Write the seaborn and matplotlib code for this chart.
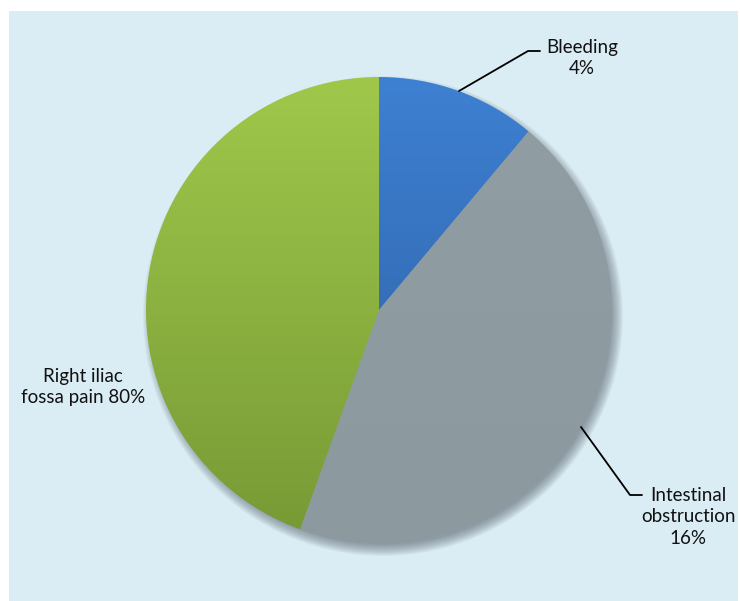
import numpy as np
import matplotlib.pyplot as plt
import seaborn as sns
from matplotlib.colors import LinearSegmentedColormap
from matplotlib.patches import Rectangle, Wedge

# slice sizes as drawn in the picture, labels as printed on it
categories = ["Bleeding", "Intestinal obstruction", "Right iliac fossa pain"]
slice_sizes = [11.1, 44.4, 44.5]
label_texts = ["Bleeding\n4%", "Intestinal\nobstruction\n16%", "Right iliac\nfossa pain 80%"]

# colour gradients (top -> bottom)
grad_colors = {
    "Bleeding": ("#3e80d2", "#2b5d9f"),
    "Intestinal obstruction": ("#909ea4", "#8c999f"),
    "Right iliac fossa pain": ("#9fc84b", "#779935"),
}

sns.set_theme(style="white")
plt.rcParams["font.family"] = ["Lato", "DejaVu Sans"]

fig = plt.figure(figsize=(7.4, 6.01), dpi=100)
fig.patch.set_facecolor("white")
ax = fig.add_axes([0, 0, 1, 1])

cx, cy, r = 379, 291, 233

wedges, _ = ax.pie(slice_sizes, startangle=90, counterclock=False, radius=r,
                   center=(cx, cy), frame=True,
                   wedgeprops=dict(edgecolor="none", linewidth=0))
ax.set_xlim(0, 740)
ax.set_ylim(0, 601)
ax.set_aspect("equal")
ax.axis("off")

# light blue chart area
ax.add_patch(Rectangle((9, -5), 729, 595, facecolor="#dbedf4", edgecolor="none", zorder=0))

# soft shadow, strongest toward bottom right
for i in range(14):
    ax.add_patch(Wedge((cx + 4, cy - 6), r + 7 - i * 0.9, 0, 360,
                       facecolor="#4a5862", alpha=0.05, edgecolor="none", zorder=1))

for w, name in zip(wedges, categories):
    top, bot = grad_colors[name]
    cmap = LinearSegmentedColormap.from_list(name, [bot, top])
    grad = np.linspace(0, 1, 256).reshape(-1, 1)
    w.set_facecolor("none")
    im = ax.imshow(grad, cmap=cmap, origin="lower", aspect="auto",
                   extent=(cx - r, cx + r, cy - r, cy + r), zorder=2)
    im.set_clip_path(w)
    w.set_zorder(3)
ax.set_xlim(0, 740)
ax.set_ylim(0, 601)

# labels with leader lines
lc = dict(color="black", lw=1.3, zorder=4)
ax.plot([459, 528, 540], [601 - 91, 601 - 51, 601 - 51], **lc)
ax.text(582, 601 - 58, label_texts[0], ha="center", va="center", fontsize=13.5,
        linespacing=1.35, color="#111111")

ax.plot([581, 630, 642], [601 - 427, 601 - 495, 601 - 495], **lc)
ax.text(688, 601 - 517, label_texts[1], ha="center", va="center", fontsize=13.5,
        linespacing=1.35, color="#111111")

ax.text(83, 601 - 387, label_texts[2], ha="center", va="center", fontsize=13.5,
        linespacing=1.35, color="#111111")

fig.savefig("out.png", dpi=100, facecolor="white")
